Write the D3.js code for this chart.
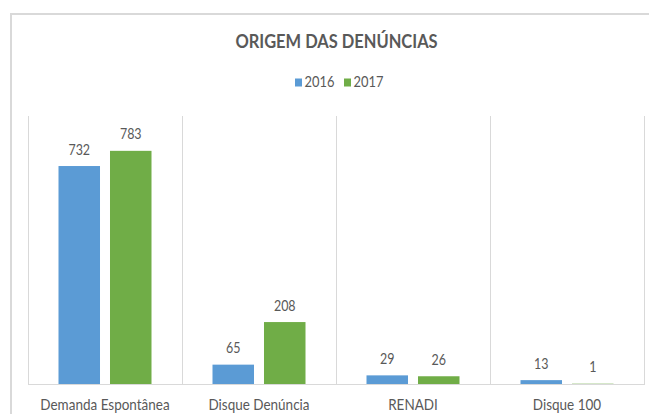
<!DOCTYPE html>
<html>
<head>
<meta charset="utf-8">
<script src="https://cdn.jsdelivr.net/npm/d3@7"></script>
<style>
  html, body { margin: 0; padding: 0; background: #fff; }
  svg { display: block; font-family: Lato, "Open Sans", sans-serif; }
</style>
</head>
<body>
<svg id="chart" width="649" height="414"></svg>
<script>
// Origem das denúncias, 2016 vs 2017
const categories = ["Demanda Espontânea", "Disque Denúncia", "RENADI", "Disque 100"];
const seriesNames = ["2016", "2017"];
const values2016 = [732, 65, 29, 13];
const values2017 = [783, 208, 26, 1];
const seriesColors = ["#5B9BD5", "#70AD47"];

const rows = categories.map((c, i) => ({ category: c, values: [values2016[i], values2017[i]] }));

const svg = d3.select("#chart");
const textColor = "#595959";
const gridColor = "#d9d9d9";

// place a text at (x, y) with a slightly condensed horizontal scale
function placeText(sel, x, y, sx) {
  return sel.attr("x", 0).attr("y", 0)
    .attr("transform", (d, i, n) => {
      const px = typeof x === "function" ? x(d, i, n) : x;
      const py = typeof y === "function" ? y(d, i, n) : y;
      return `translate(${px},${py}) scale(${sx},1)`;
    });
}

// chart frame (runs past the right/bottom edge of the page)
svg.append("rect")
  .attr("x", 11).attr("y", 14)
  .attr("width", 700).attr("height", 500)
  .attr("fill", "#fff")
  .attr("stroke", "#d9d9d9")
  .attr("stroke-width", 2);

const plot = { left: 28, right: 644, top: 116, bottom: 384 };

const x0 = d3.scaleBand()
  .domain(categories)
  .range([plot.left, plot.right])
  .paddingInner(0).paddingOuter(0);

const groupPad = 30.5;
const x1 = d3.scaleBand()
  .domain(seriesNames)
  .range([groupPad, x0.bandwidth() - groupPad])
  .paddingInner(0.194);

const y = d3.scaleLinear()
  .domain([0, 900])
  .range([plot.bottom, plot.top]);

// vertical category gridlines
const gridXs = categories.map(c => x0(c)).concat([plot.right]);
svg.append("g").selectAll("line")
  .data(gridXs)
  .join("line")
  .attr("x1", d => d + 0.5).attr("x2", d => d + 0.5)
  .attr("y1", plot.top).attr("y2", plot.bottom)
  .attr("stroke", gridColor).attr("stroke-width", 1);

// title
placeText(svg.append("text"), 336.5, 47.5, 0.915)
  .attr("text-anchor", "middle")
  .attr("font-size", 18)
  .attr("font-weight", "bold")
  .attr("fill", textColor)
  .text("ORIGEM DAS DENÚNCIAS");

// legend
const legendItems = [
  { name: seriesNames[0], color: seriesColors[0], x: 295 },
  { name: seriesNames[1], color: seriesColors[1], x: 344 }
];
const lg = svg.append("g").selectAll("g").data(legendItems).join("g")
  .attr("transform", d => `translate(${d.x},0)`);
lg.append("rect").attr("x", 0).attr("y", 78.5).attr("width", 7).attr("height", 8)
  .attr("fill", d => d.color);
placeText(lg.append("text"), 9.5, 86.5, 0.89)
  .attr("font-size", 14.5).attr("fill", textColor)
  .text(d => d.name);

// bars
const groups = svg.append("g").selectAll("g")
  .data(rows)
  .join("g")
  .attr("transform", d => `translate(${x0(d.category)},0)`);

groups.selectAll("rect")
  .data(d => d.values.map((v, i) => ({ key: seriesNames[i], value: v, color: seriesColors[i] })))
  .join("rect")
  .attr("x", d => x1(d.key))
  .attr("width", x1.bandwidth())
  .attr("y", d => y(d.value))
  .attr("height", d => y(0) - y(d.value))
  .attr("fill", d => d.color);

// value labels
placeText(
  groups.selectAll("text")
    .data(d => d.values.map((v, i) => ({ key: seriesNames[i], value: v })))
    .join("text"),
  d => x1(d.key) + x1.bandwidth() / 2,
  d => y(d.value) - 11.5,
  0.86)
  .attr("text-anchor", "middle")
  .attr("font-size", 14.5)
  .attr("fill", textColor)
  .text(d => d.value);

// baseline
svg.append("line")
  .attr("x1", plot.left).attr("x2", plot.right + 1)
  .attr("y1", plot.bottom + 0.5).attr("y2", plot.bottom + 0.5)
  .attr("stroke", gridColor).attr("stroke-width", 1);

// category axis labels
const xAxis = d3.axisBottom(x0).tickSize(0).tickPadding(0);
const axisG = svg.append("g")
  .attr("transform", `translate(0,${plot.bottom})`)
  .call(xAxis);
axisG.select(".domain").remove();
axisG.selectAll("text")
  .attr("dy", null)
  .attr("y", 0)
  .attr("transform", "translate(0,26) scale(0.93,1)")
  .attr("font-size", 14.5)
  .attr("font-family", "Lato, 'Open Sans', sans-serif")
  .attr("fill", textColor);
</script>
</body>
</html>
